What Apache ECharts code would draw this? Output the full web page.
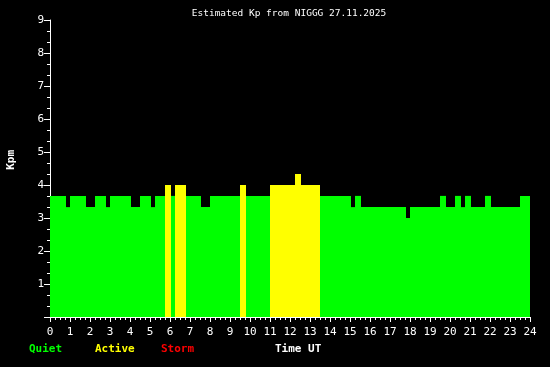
<!DOCTYPE html>
<html><head><meta charset="utf-8">
<script src="https://cdn.jsdelivr.net/npm/echarts@6/dist/echarts.min.js"></script>
<style>html,body{margin:0;padding:0;background:#000}#c{width:550px;height:367px}</style>
</head><body><div id="c"></div>
<script>
// Segment start / end times (hours UT) and estimated Kp values
var segStart = [0,0.8,1.0,1.8,2.25,2.8,3.0,4.05,4.5,5.05,5.25,5.75,6.05,6.25,6.8,7.55,8.0,9.5,9.8,11.0,12.25,12.55,13.5,15.05,15.25,15.55,17.8,18.0,19.5,19.8,20.25,20.55,20.75,21.05,21.75,22.05,23.5];
var segEnd   = [0.8,1.0,1.8,2.25,2.8,3.0,4.05,4.5,5.05,5.25,5.75,6.05,6.25,6.8,7.55,8.0,9.5,9.8,11.0,12.25,12.55,13.5,15.05,15.25,15.55,17.8,18.0,19.5,19.8,20.25,20.55,20.75,21.05,21.75,22.05,23.5,24];
var kpValues = [3.67,3.33,3.67,3.33,3.67,3.33,3.67,3.33,3.67,3.33,3.67,4.0,3.67,4.0,3.67,3.33,3.67,4.0,3.67,4.0,4.33,4.0,3.67,3.33,3.67,3.33,3.0,3.33,3.67,3.33,3.67,3.33,3.67,3.33,3.67,3.33,3.67];
var xTicks = [0,1,2,3,4,5,6,7,8,9,10,11,12,13,14,15,16,17,18,19,20,21,22,23,24];
var yTicks = [1,2,3,4,5,6,7,8,9];
var title = 'Estimated Kp from NIGGG 27.11.2025';

var data = segStart.map(function(s,i){return [s, segEnd[i], kpValues[i]];});
var FONT = 'DejaVu Sans Mono';
var chart = echarts.init(document.getElementById('c'), null, {renderer:'canvas'});
chart.setOption({
  backgroundColor:'#000',
  animation:false,
  title:{text:title,left:284,top:4,textAlign:'center',textStyle:{color:'#fff',fontFamily:FONT,fontSize:9.5,fontWeight:'normal'}},
  grid:{left:50,right:20,top:20,bottom:50},
  xAxis:{type:'value',min:0,max:24,interval:1,
    axisLine:{show:true,lineStyle:{color:'#fff',width:1}},
    axisTick:{show:true,length:5,lineStyle:{color:'#fff'}},
    minorTick:{show:true,splitNumber:4,length:3,lineStyle:{color:'#fff'}},
    splitLine:{show:false},
    axisLabel:{color:'#fff',fontFamily:FONT,fontSize:11,margin:10,
      customValues:xTicks, formatter:function(v){return String(v);}}
  },
  yAxis:{type:'value',min:0,max:9,interval:1,
    axisLine:{show:true,lineStyle:{color:'#fff',width:1}},
    axisTick:{show:true,length:6,lineStyle:{color:'#fff'}},
    minorTick:{show:true,splitNumber:3,length:3,lineStyle:{color:'#fff'}},
    splitLine:{show:false},
    axisLabel:{color:'#fff',fontFamily:FONT,fontSize:11,margin:6,
      formatter:function(v){return yTicks.indexOf(v)>=0?String(v):'';}}
  },
  graphic:[
    {type:'text',left:6,top:150,rotation:Math.PI/2,style:{text:'Kpm',fill:'#fff',font:'bold 11px "DejaVu Sans Mono"'}},
    {type:'text',left:29,top:344,style:{text:'Quiet',fill:'#00ff00',font:'bold 11px "DejaVu Sans Mono"'}},
    {type:'text',left:95,top:344,style:{text:'Active',fill:'#ffff00',font:'bold 11px "DejaVu Sans Mono"'}},
    {type:'text',left:161,top:344,style:{text:'Storm',fill:'#ff0000',font:'bold 11px "DejaVu Sans Mono"'}},
    {type:'text',left:275,top:344,style:{text:'Time UT',fill:'#fff',font:'bold 11px "DejaVu Sans Mono"'}}
  ],
  series:[{
    type:'custom',
    encode:{x:[0,1],y:2},
    data:data,
    z:1,
    renderItem:function(params,api){
      var s=api.value(0), e=api.value(1), v=api.value(2);
      var p0=api.coord([s,v]), p1=api.coord([e,0]);
      var col = v>=5 ? '#ff0000' : (v>=4 ? '#ffff00' : '#00ff00');
      return {type:'rect',shape:{x:p0[0],y:p0[1],width:p1[0]-p0[0],height:p1[1]-p0[1]},
        style:{fill:col,stroke:null}};
    }
  }]
});
</script></body></html>
